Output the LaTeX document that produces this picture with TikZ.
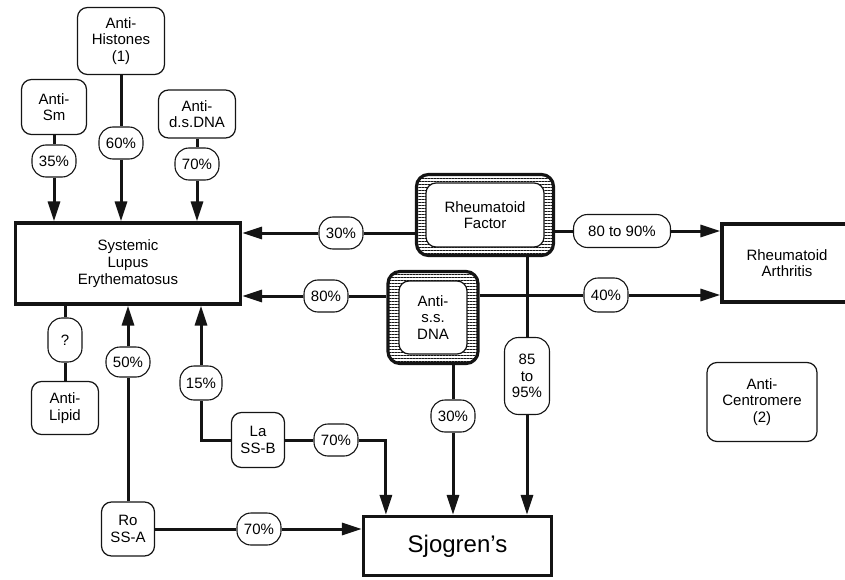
\documentclass[tikz,border=0pt]{standalone}
\usepackage{fontspec}
\setmainfont{Liberation Sans}
\usetikzlibrary{positioning,arrows.meta,calc,patterns.meta}
\definecolor{ink}{HTML}{141414}
\tikzset{
  font=\fontsize{15}{16.7}\selectfont,
  >={Triangle[length=20pt,width=12pt]},
  %% nodes
  agent/.style   = {rounded corners=10pt, draw=ink, line width=1.2pt,
                    fill=white, inner sep=3pt, align=center},
  disease/.style = {draw=ink, line width=3.2pt, fill=white, align=center},
  factor/.style  = {rounded corners=12pt, draw=ink, line width=3.2pt,
                    pattern={Lines[angle=0, distance=3pt, line width=0.8pt]},
                    pattern color=ink},
  pct/.style     = {rounded corners=14pt, draw=ink, line width=1.1pt, fill=white,
                    inner sep=2pt, minimum width=44pt, minimum height=32pt, align=center},
  %% connectors
  link/.style    = {-, draw=ink, line width=3pt},
  flow/.style    = {->, draw=ink, line width=3pt},
}

\begin{document}
\begin{tikzpicture}[x=1pt, y=-1pt]
\useasboundingbox (0,0) rectangle (845,580);

%% ---- diseases ----
\node[disease, minimum width=225pt, minimum height=81pt] (sle) at (128,263.5)
   {Systemic\\Lupus\\Erythematosus};
\node[disease, minimum width=130pt, minimum height=78pt] (ra) at (787,263)
   {Rheumatoid\\Arthritis};
\node[disease, font=\fontsize{24}{28}\selectfont, minimum width=188pt, minimum height=59pt]
   (sj) at (457.5,546) {Sjogren's};

%% ---- antibodies ----
\node[agent, minimum width=87pt, minimum height=67pt] (his) at (121,41) {Anti-\\Histones\\(1)};
\node[agent, minimum width=65pt, minimum height=55pt] (sm)  at (54,107)  {Anti-\\Sm};
\node[agent, minimum width=77pt, minimum height=48pt] (ds)  at (197,114) {Anti-\\d.s.DNA};
\node[agent, minimum width=67pt, minimum height=53pt] (lip) at (65,408)  {Anti-\\Lipid};
\node[agent, minimum width=53pt, minimum height=55pt] (la)  at (258,440) {La\\SS-B};
\node[agent, minimum width=53pt, minimum height=54pt] (ro)  at (128,529) {Ro\\SS-A};
\node[agent, minimum width=110pt, minimum height=79pt] (cen) at (762,402)
   {Anti-\\Centromere\\(2)};

%% hatched frames, text box laid on top
\node[factor, minimum width=137pt, minimum height=81pt] (rf) at (485,215) {};
\node[agent, minimum width=118pt, minimum height=64pt] (rfin) at (rf) {Rheumatoid\\Factor};
\node[factor, minimum width=90pt, minimum height=92pt] (ss) at (433,317.5) {};
\node[agent, minimum width=68pt, minimum height=73pt] (ssin) at (ss) {Anti-\\s.s.\\DNA};

%% ---- percentages ----
\node[pct] (p35)  at (54,161)  {35\%};
\node[pct] (p60)  at (121,143) {60\%};
\node[pct] (p70a) at (197,164) {70\%};
\node[pct, minimum width=34pt, minimum height=44pt] (pq) at (65,340) {?};
\node[pct, minimum height=30pt] (p50) at (128,362) {50\%};
\node[pct, minimum width=42pt, minimum height=34pt] (p15) at (201,383) {15\%};
\node[pct] (p30a) at (341,233) {30\%};
\node[pct] (p80)  at (326,296) {80\%};
\node[pct, minimum width=97pt, minimum height=33pt] (p8090) at (622,231) {80 to 90\%};
\node[pct, minimum height=34pt] (p40) at (606,295) {40\%};
\node[pct, minimum width=45pt, minimum height=77pt] (p8595) at (527,376) {85\\to\\95\%};
\node[pct] (p30b) at (453,416) {30\%};
\node[pct] (p70b) at (336,440) {70\%};
\node[pct] (p70c) at (259,529) {70\%};

%% ---- into SLE ----
\draw[link] (sm) -- (p35);
\draw[flow] (p35) -- (p35 |- sle.north);
\draw[link] (his) -- (p60);
\draw[flow] (p60) -- (p60 |- sle.north);
\draw[link] (ds) -- (p70a);
\draw[flow] (p70a) -- (p70a |- sle.north);
\draw[link] (p30a -| rf.west) -- (p30a);
\draw[flow] (p30a) -- (p30a -| sle.east);
\draw[link] (p80 -| ss.west) -- (p80);
\draw[flow] (p80) -- (p80 -| sle.east);
\draw[link] (ro) -- (p50);
\draw[flow] (p50) -- (p50 |- sle.south);
\draw[link] (la) -| (p15);
\draw[flow] (p15) -- (p15 |- sle.south);
\draw[link] (pq |- sle.south) -- (pq);
\draw[link] (pq) -- (lip);

%% ---- into RA ----
\draw[link] (p8090 -| rf.east) -- (p8090);
\draw[flow] (p8090) -- (p8090 -| ra.west);
\draw[link] (p40 -| ss.east) -- (p40);
\draw[flow] (p40) -- (p40 -| ra.west);

%% ---- into Sjogren's ----
\draw[link] (p8595 |- rf.south) -- (p8595);
\draw[flow] (p8595) -- (p8595 |- sj.north);
\draw[link] (p30b |- ss.south) -- (p30b);
\draw[flow] (p30b) -- (p30b |- sj.north);
\draw[link] (la) -- (p70b);
\draw[flow] (p70b) -| ([xshift=24pt]sj.north west);
\draw[link] (ro) -- (p70c);
\draw[flow] (p70c) -- (p70c -| sj.west);
\end{tikzpicture}
\end{document}
